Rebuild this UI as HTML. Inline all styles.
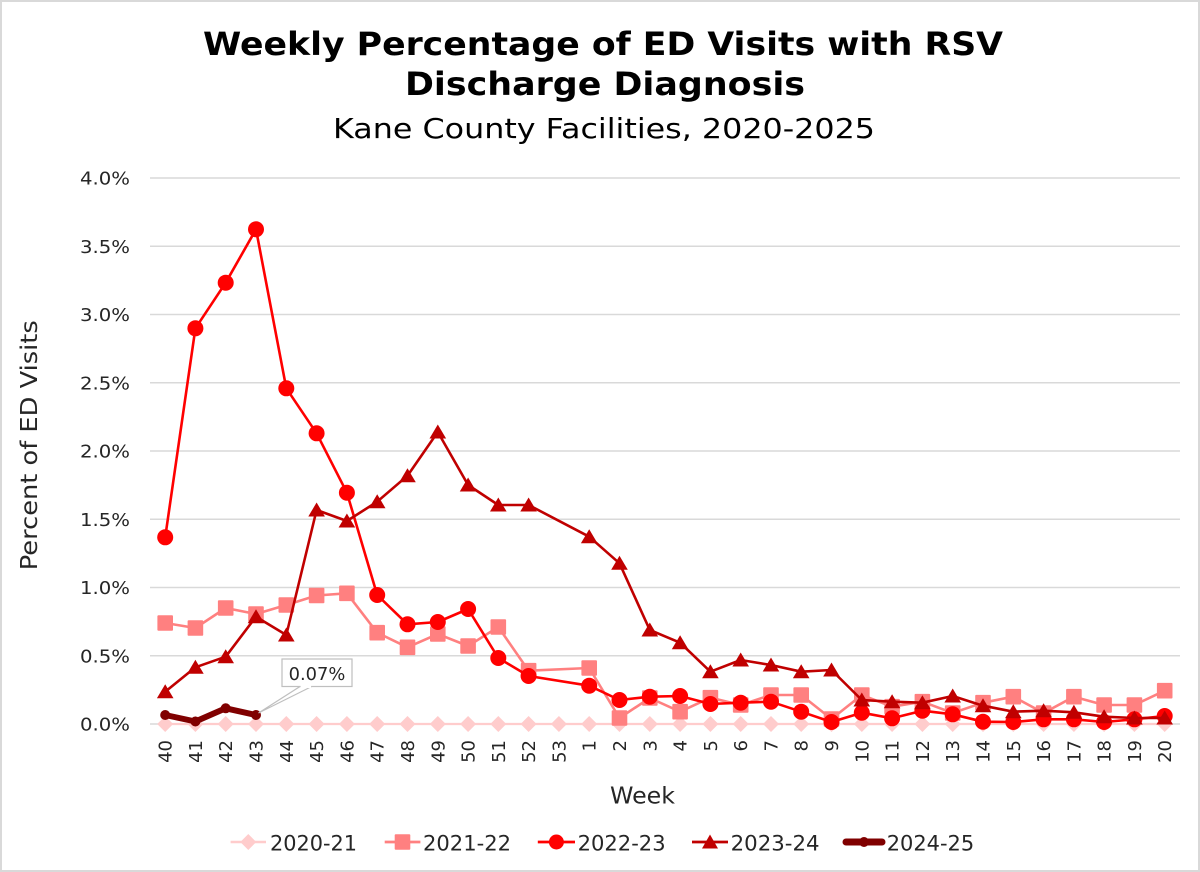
<!DOCTYPE html>
<html>
<head>
<meta charset="utf-8">
<style>
html,body{margin:0;padding:0;background:#fff;}
svg{display:block;}
text{font-family:"DejaVu Sans","Liberation Sans",sans-serif;}
</style>
</head>
<body>
<svg width="1200" height="872" viewBox="0 0 1200 872" xmlns="http://www.w3.org/2000/svg">
<defs>
  <marker id="mDia" markerUnits="userSpaceOnUse" markerWidth="20" markerHeight="20" refX="10" refY="10" overflow="visible">
    <path d="M10 2 L18 10 L10 18 L2 10 Z" fill="#FFCCCC"/>
  </marker>
  <marker id="mSq" markerUnits="userSpaceOnUse" markerWidth="20" markerHeight="20" refX="10" refY="10" overflow="visible">
    <rect x="2.2" y="2.2" width="15.6" height="15.6" rx="1" fill="#FF8080"/>
  </marker>
  <marker id="mCir" markerUnits="userSpaceOnUse" markerWidth="20" markerHeight="20" refX="10" refY="10" overflow="visible">
    <circle cx="10" cy="10" r="8" fill="#FF0000"/>
  </marker>
  <marker id="mTri" markerUnits="userSpaceOnUse" markerWidth="20" markerHeight="20" refX="10" refY="10" overflow="visible">
    <path d="M10 2.5 L18.3 16.5 L1.7 16.5 Z" fill="#C00000"/>
  </marker>
  <marker id="mDot" markerUnits="userSpaceOnUse" markerWidth="20" markerHeight="20" refX="10" refY="10" overflow="visible">
    <circle cx="10" cy="10" r="5" fill="#800000"/>
  </marker>
</defs>

<rect x="1" y="1" width="1198" height="870" fill="#fff" stroke="#d9d9d9" stroke-width="2"/>

<!-- Titles -->
<text x="603" y="55" font-size="32" font-weight="bold" text-anchor="middle" textLength="800" lengthAdjust="spacingAndGlyphs" fill="#000">Weekly Percentage of ED Visits with RSV</text>
<text x="605" y="95" font-size="32" font-weight="bold" text-anchor="middle" textLength="400" lengthAdjust="spacingAndGlyphs" fill="#000">Discharge Diagnosis</text>
<text x="604" y="138" font-size="28" text-anchor="middle" textLength="542" lengthAdjust="spacingAndGlyphs" fill="#000">Kane County Facilities, 2020-2025</text>

<!-- Gridlines -->
<g stroke="#d9d9d9" stroke-width="1.4">
  <line x1="150" y1="178" x2="1180" y2="178"/>
  <line x1="150" y1="246.25" x2="1180" y2="246.25"/>
  <line x1="150" y1="314.5" x2="1180" y2="314.5"/>
  <line x1="150" y1="382.75" x2="1180" y2="382.75"/>
  <line x1="150" y1="451" x2="1180" y2="451"/>
  <line x1="150" y1="519.25" x2="1180" y2="519.25"/>
  <line x1="150" y1="587.5" x2="1180" y2="587.5"/>
  <line x1="150" y1="655.75" x2="1180" y2="655.75"/>
  <line x1="150" y1="724" x2="1180" y2="724"/>
</g>

<!-- Y tick labels -->
<g font-size="18" fill="#262626" text-anchor="end">
  <text x="130" y="184.5" textLength="50" lengthAdjust="spacingAndGlyphs">4.0%</text>
  <text x="130" y="252.75" textLength="50" lengthAdjust="spacingAndGlyphs">3.5%</text>
  <text x="130" y="321" textLength="50" lengthAdjust="spacingAndGlyphs">3.0%</text>
  <text x="130" y="389.25" textLength="50" lengthAdjust="spacingAndGlyphs">2.5%</text>
  <text x="130" y="457.5" textLength="50" lengthAdjust="spacingAndGlyphs">2.0%</text>
  <text x="130" y="525.75" textLength="50" lengthAdjust="spacingAndGlyphs">1.5%</text>
  <text x="130" y="594" textLength="50" lengthAdjust="spacingAndGlyphs">1.0%</text>
  <text x="130" y="662.25" textLength="50" lengthAdjust="spacingAndGlyphs">0.5%</text>
  <text x="130" y="730.5" textLength="50" lengthAdjust="spacingAndGlyphs">0.0%</text>
</g>

<!-- X tick labels -->
<g font-size="18" fill="#262626" text-anchor="end">
  <text transform="translate(171.7,740) rotate(-90)">40</text>
  <text transform="translate(201.9,740) rotate(-90)">41</text>
  <text transform="translate(232.2,740) rotate(-90)">42</text>
  <text transform="translate(262.5,740) rotate(-90)">43</text>
  <text transform="translate(292.8,740) rotate(-90)">44</text>
  <text transform="translate(323.1,740) rotate(-90)">45</text>
  <text transform="translate(353.4,740) rotate(-90)">46</text>
  <text transform="translate(383.7,740) rotate(-90)">47</text>
  <text transform="translate(414.0,740) rotate(-90)">48</text>
  <text transform="translate(444.3,740) rotate(-90)">49</text>
  <text transform="translate(474.6,740) rotate(-90)">50</text>
  <text transform="translate(504.8,740) rotate(-90)">51</text>
  <text transform="translate(535.1,740) rotate(-90)">52</text>
  <text transform="translate(565.4,740) rotate(-90)">53</text>
  <text transform="translate(595.7,740) rotate(-90)">1</text>
  <text transform="translate(626.0,740) rotate(-90)">2</text>
  <text transform="translate(656.3,740) rotate(-90)">3</text>
  <text transform="translate(686.6,740) rotate(-90)">4</text>
  <text transform="translate(716.9,740) rotate(-90)">5</text>
  <text transform="translate(747.2,740) rotate(-90)">6</text>
  <text transform="translate(777.5,740) rotate(-90)">7</text>
  <text transform="translate(807.7,740) rotate(-90)">8</text>
  <text transform="translate(838.0,740) rotate(-90)">9</text>
  <text transform="translate(868.3,740) rotate(-90)">10</text>
  <text transform="translate(898.6,740) rotate(-90)">11</text>
  <text transform="translate(928.9,740) rotate(-90)">12</text>
  <text transform="translate(959.2,740) rotate(-90)">13</text>
  <text transform="translate(989.5,740) rotate(-90)">14</text>
  <text transform="translate(1019.8,740) rotate(-90)">15</text>
  <text transform="translate(1050.1,740) rotate(-90)">16</text>
  <text transform="translate(1080.4,740) rotate(-90)">17</text>
  <text transform="translate(1110.6,740) rotate(-90)">18</text>
  <text transform="translate(1140.9,740) rotate(-90)">19</text>
  <text transform="translate(1171.2,740) rotate(-90)">20</text>
</g>

<!-- Axis titles -->
<text transform="translate(37,445.3) rotate(-90)" font-size="23" fill="#262626" text-anchor="middle" textLength="250" lengthAdjust="spacingAndGlyphs">Percent of ED Visits</text>
<text x="642.5" y="803.3" font-size="23" fill="#262626" text-anchor="middle" textLength="65" lengthAdjust="spacingAndGlyphs">Week</text>

<!-- 2020-21 -->
<polyline fill="none" stroke="#FFCCCC" stroke-width="2.2" stroke-linejoin="round"
  marker-start="url(#mDia)" marker-mid="url(#mDia)" marker-end="url(#mDia)"
  points="165.2,724 195.4,724 225.7,724 256.0,724 286.3,724 316.6,724 346.9,724 377.2,724 407.5,724 437.8,724 468.1,724 498.3,724 528.6,724 558.9,724 589.2,724 619.5,724 649.8,724 680.1,724 710.4,724 740.7,724 771.0,724 801.2,724 831.5,724 861.8,724 892.1,724 922.4,724 952.7,724 983.0,724 1013.3,724 1043.6,724 1073.9,724 1104.1,724 1134.4,724 1164.7,724"/>

<!-- 2021-22 -->
<polyline fill="none" stroke="#FF8080" stroke-width="2.6" stroke-linejoin="round"
  marker-start="url(#mSq)" marker-mid="url(#mSq)" marker-end="url(#mSq)"
  points="165.2,623 195.4,628 225.7,608 256.0,614 286.3,605 316.6,595.5 346.9,593.3 377.2,632.7 407.5,647.3 437.8,634 468.1,646 498.3,627 528.6,670.7 589.2,668 619.5,718 649.8,698 680.1,711.7 710.4,697.7 740.7,705 771.0,695 801.2,695 831.5,719 861.8,695 892.1,706.7 922.4,701.7 952.7,713 983.0,702.7 1013.3,696.7 1043.6,713 1073.9,696.7 1104.1,705 1134.4,705 1164.7,690.7"/>

<!-- 2022-23 -->
<polyline fill="none" stroke="#FF0000" stroke-width="2.6" stroke-linejoin="round"
  marker-start="url(#mCir)" marker-mid="url(#mCir)" marker-end="url(#mCir)"
  points="165.2,537.3 195.4,328.3 225.7,282.7 256.0,229.3 286.3,388.3 316.6,433.3 346.9,492.7 377.2,595 407.5,624.3 437.8,622 468.1,609 498.3,658 528.6,676 589.2,685.7 619.5,700 649.8,696.7 680.1,696 710.4,704 740.7,702.7 771.0,701.7 801.2,711.7 831.5,722 861.8,712.7 892.1,718.3 922.4,710.7 952.7,714.3 983.0,721.7 1013.3,722 1043.6,719.3 1073.9,719.3 1104.1,722 1134.4,719.3 1164.7,716"/>

<!-- 2023-24 -->
<polyline fill="none" stroke="#C00000" stroke-width="2.6" stroke-linejoin="round"
  marker-start="url(#mTri)" marker-mid="url(#mTri)" marker-end="url(#mTri)"
  points="165.2,691.7 195.4,667.3 225.7,656.7 256.0,616.7 286.3,635 316.6,510 346.9,521 377.2,501.7 407.5,475.7 437.8,432 468.1,485 498.3,505 528.6,505 589.2,536.7 619.5,563.3 649.8,630 680.1,642.7 710.4,671.7 740.7,660 771.0,665 801.2,671.7 831.5,670 861.8,700 892.1,701.7 922.4,702.7 952.7,696 983.0,705.7 1013.3,711.7 1043.6,710.7 1073.9,712.3 1104.1,716.7 1134.4,718 1164.7,718"/>

<!-- 2024-25 -->
<polyline fill="none" stroke="#800000" stroke-width="6" stroke-linejoin="round" stroke-linecap="round"
  marker-start="url(#mDot)" marker-mid="url(#mDot)" marker-end="url(#mDot)"
  points="165.2,715 195.4,721.5 225.7,708.3 256.0,715"/>

<!-- Callout -->
<polygon points="300,686.5 311.7,686.5 258.5,713" fill="#fff" stroke="#bfbfbf" stroke-width="1.2" stroke-linejoin="miter"/>
<rect x="282" y="659" width="70" height="27.5" fill="#fff" stroke="#bfbfbf" stroke-width="1.2"/>
<rect x="300.6" y="685" width="10.5" height="3" fill="#fff"/>
<text x="317" y="680" font-size="18" fill="#262626" text-anchor="middle" textLength="56.7" lengthAdjust="spacingAndGlyphs">0.07%</text>

<!-- Legend -->
<g>
  <line x1="230.6" y1="842" x2="266" y2="842" stroke="#FFCCCC" stroke-width="2.5"/>
  <path d="M248.3 834 L256.3 842 L248.3 850 L240.3 842 Z" fill="#FFCCCC"/>
  <text x="270" y="850.5" font-size="21" fill="#262626" textLength="87" lengthAdjust="spacingAndGlyphs">2020-21</text>

  <line x1="384.7" y1="842" x2="420.4" y2="842" stroke="#FF8080" stroke-width="2.8"/>
  <rect x="394.7" y="834.2" width="15.6" height="15.6" rx="1" fill="#FF8080"/>
  <text x="423" y="850.5" font-size="21" fill="#262626" textLength="88" lengthAdjust="spacingAndGlyphs">2021-22</text>

  <line x1="537.8" y1="842" x2="575" y2="842" stroke="#FF0000" stroke-width="2.8"/>
  <circle cx="556.4" cy="842" r="7.5" fill="#FF0000"/>
  <text x="577.6" y="850.5" font-size="21" fill="#262626" textLength="88" lengthAdjust="spacingAndGlyphs">2022-23</text>

  <line x1="692" y1="842" x2="728" y2="842" stroke="#C00000" stroke-width="2.8"/>
  <path d="M710 834.5 L718 848.5 L702 848.5 Z" fill="#C00000"/>
  <text x="730.6" y="850.5" font-size="21" fill="#262626" textLength="89" lengthAdjust="spacingAndGlyphs">2023-24</text>

  <line x1="846" y1="842" x2="882" y2="842" stroke="#800000" stroke-width="7" stroke-linecap="round"/>
  <circle cx="864" cy="842" r="5" fill="#800000"/>
  <text x="886.7" y="850.5" font-size="21" fill="#262626" textLength="87.5" lengthAdjust="spacingAndGlyphs">2024-25</text>
</g>
</svg>
</body>
</html>
